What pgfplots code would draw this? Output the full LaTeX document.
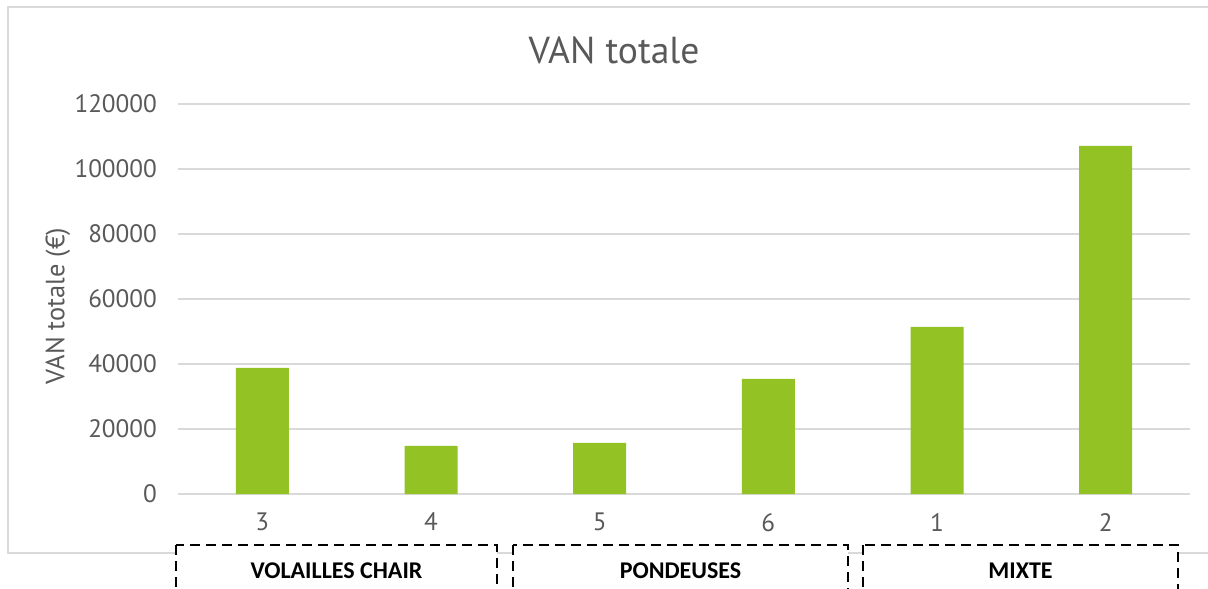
\documentclass[border=0pt]{standalone}
\usepackage{pgfplots}
\pgfplotsset{compat=1.18}
\usepackage{fontspec}
\setmainfont{PT Sans}
\newfontfamily\boxfont{Carlito}
\definecolor{bargreen}{HTML}{93C225}
\definecolor{gridgrey}{HTML}{D9D9D9}
\definecolor{textgrey}{HTML}{595959}

\begin{document}
\begin{tikzpicture}
% frame in pixel units of the reference (1px = 0.5pt, y downwards)
\begin{scope}[x=0.5pt,y=-0.5pt]
  \useasboundingbox (0,0) rectangle (1208,588);
  \clip (0,0) rectangle (1208,588);
  \draw[gridgrey, line width=1pt] (8,7) rectangle (1240,553);
  \node[textgrey, font=\fontsize{18.8}{22}\selectfont] at (614,50) {VAN totale};
  \node[textgrey, rotate=90, font=\fontsize{13.2}{15}\selectfont] at (58,306) {VAN totale (€)};
\end{scope}

\begin{axis}[
    at={(89pt,-247pt)}, anchor=south west,
    scale only axis,
    width=506pt, height=195pt,
    xmin=-0.5, xmax=5.5,
    ymin=0, ymax=120000,
    ytick={0,20000,...,120000},
    xtick={0,...,5},
    xticklabels={3,4,5,6,1,2},
    scaled y ticks=false,
    axis line style={draw=none},
    major tick length=0pt,
    ymajorgrids,
    grid style={gridgrey, line width=1pt},
    tick label style={textgrey, font=\fontsize{12.6}{15}\selectfont,
        /pgf/number format/assume math mode=true},
    yticklabel style={/pgf/number format/fixed, /pgf/number format/1000 sep={}, xshift=-7pt},
    xticklabel style={yshift=-6pt},
    clip=false,
]
\addplot[ybar, bar width=26.5pt, fill=bargreen, draw=none] coordinates {
    (0,38800)
    (1,14800)
    (2,15700)
    (3,35400)
    (4,51400)
    (5,107100)
};
\end{axis}

\begin{scope}[x=0.5pt,y=-0.5pt]
  \clip (0,0) rectangle (1208,588);
  \tikzset{grpbox/.style={draw=black, fill=white, line width=1.3pt, dash pattern=on 5pt off 3pt}}
  \draw[grpbox] (176,545) rectangle (497,620);
  \draw[grpbox] (513,545) rectangle (848,620);
  \draw[grpbox] (863,545) rectangle (1178,620);
  \node[anchor=base, font=\boxfont\bfseries\fontsize{12}{14}\selectfont] at (336.5,578) {VOLAILLES CHAIR};
  \node[anchor=base, font=\boxfont\bfseries\fontsize{12}{14}\selectfont] at (680.5,578) {PONDEUSES};
  \node[anchor=base, font=\boxfont\bfseries\fontsize{12}{14}\selectfont] at (1020.5,578) {MIXTE};
\end{scope}
\end{tikzpicture}
\end{document}
